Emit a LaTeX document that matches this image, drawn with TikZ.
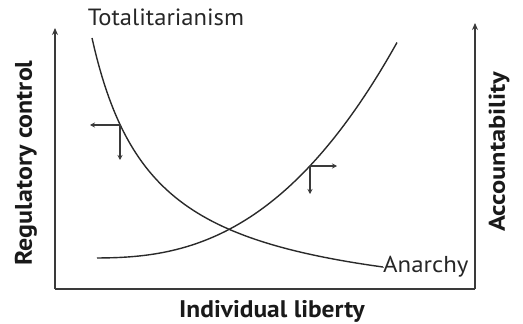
\documentclass[tikz,border=0pt]{standalone}
\usepackage{fontspec}
\setmainfont{PT Sans}
\usetikzlibrary{arrows.meta}
\definecolor{axisgray}{HTML}{3A3A3A}
\definecolor{curvegray}{HTML}{2A2A2A}
\tikzset{
  axisline/.style={draw=axisgray, line width=2pt},
  axisarrow/.style={axisline, -{Stealth[length=7pt,width=6pt]}},
  curve/.style={draw=curvegray, line width=1.4pt},
  shiftarrow/.style={draw=axisgray, line width=1.3pt, -{Stealth[length=5pt,width=5pt]}},
  axislabel/.style={font=\fontsize{24}{26}\selectfont\bfseries, text=black!90, inner sep=0pt},
  curvelabel/.style={font=\fontsize{23}{25}\selectfont, text=black!85, inner sep=0pt},
}
\begin{document}
\begin{tikzpicture}[x=1pt,y=-1pt]
\useasboundingbox (0,0) rectangle (523,324);
% axes
\coordinate (O) at (55,289);
\coordinate (ytop) at (55,28);
\coordinate (BR) at (475,289);
\coordinate (rtop) at (475,23);
\draw[axisarrow] (O) -- (ytop);
\draw[axisline] (O) -- (BR);
\draw[axisarrow] (BR) -- (rtop);
% labels
\node[axislabel, rotate=90] (reg) at (26,163) {\scalebox{1.08}[1]{Regulatory control}};
\node[axislabel, rotate=90] (acc) at (499,152) {\scalebox{1.1}[0.95]{Accountability}};
\node[axislabel] (ind) at (272,311) {\scalebox{1.06}[1]{Individual liberty}};
\node[curvelabel] (tot) at (166,17) {\scalebox{1.07}[1.02]{Totalitarianism}};
\node[curvelabel, anchor=west] (anar) at (383,267) {\scalebox{1.08}[1]{Anarchy}};
% decreasing curve (towards Anarchy)
\draw[curve] plot[samples=120, domain=92:383] (\x, {315.8-172.23/((\x-30)/100)}) -- (anar.west);
% increasing curve
\draw[curve] plot[samples=120, domain=97:397] (\x, {258-12.34*exp(2.55*ln((\x-90)/100))});
% shift arrows
\coordinate (p1) at (120,125);
\coordinate (p1l) at (90,125);
\coordinate (p1d) at (120,160);
\draw[shiftarrow] (p1) -- (p1l);
\draw[shiftarrow] (p1) -- (p1d);
\coordinate (p2) at (310,166);
\coordinate (p2r) at (337,166);
\coordinate (p2d) at (310,194);
\draw[shiftarrow] (p2) -- (p2r);
\draw[shiftarrow] (p2) -- (p2d);
\end{tikzpicture}
\end{document}
